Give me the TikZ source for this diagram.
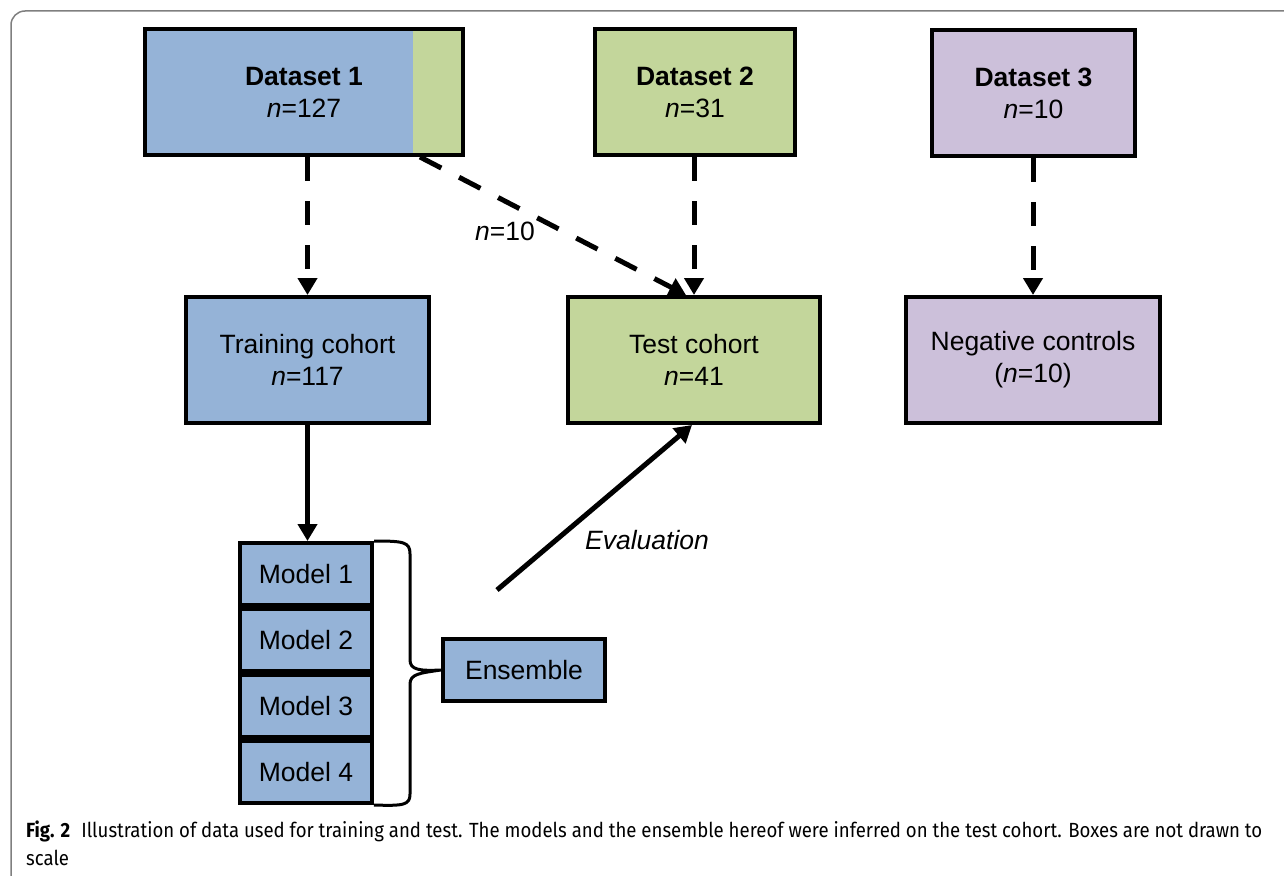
\documentclass[tikz,border=0pt]{standalone}
\usepackage{fontspec}
\usepackage{graphicx}
\setmainfont{Liberation Sans}
\newfontfamily\capfont{Fira Sans}
\usetikzlibrary{arrows.meta,calc}
\definecolor{cblue}{HTML}{95B3D7}
\definecolor{cgreen}{HTML}{C3D69B}
\definecolor{cpurple}{HTML}{CCC0DA}
\definecolor{framegray}{HTML}{7F7F7F}
\begin{document}
\begin{tikzpicture}[x=1pt,y=-1pt,
  box/.style={draw=black,line width=4pt,minimum height=126pt,align=center,inner sep=0pt,
    font=\fontsize{26.5}{32}\selectfont},
  mbox/.style={box,fill=cblue,minimum width=132pt,minimum height=62pt},
  lbl/.style={font=\fontsize{26.5}{32}\selectfont,inner sep=0pt},
  arr/.style={line width=5pt,-{Triangle[length=17pt,width=19pt]}},
  dasharr/.style={arr,dash pattern=on 24pt off 20pt},
  bracestyle/.style={line width=3pt,line join=round},
  frame/.style={draw=framegray,line width=1.5pt,rounded corners=14pt}]
\useasboundingbox (0,0) rectangle (1284,875);
\draw[frame] (11,890) -- (11,11) -- (1300,11);

% top row
\node[box,fill=cblue,minimum width=318pt,
  path picture={\fill[cgreen] ($(path picture bounding box.north east)+(-50pt,0pt)$) rectangle (path picture bounding box.south east);}]
  (d1) at (304,92) {\textbf{Dataset 1}\\\textit{n}=127};
\node[box,fill=cgreen,minimum width=200pt] (d2) at (695,92) {\textbf{Dataset 2}\\\textit{n}=31};
\node[box,fill=cpurple,minimum width=203pt] (d3) at (1033.5,93) {\textbf{Dataset 3}\\\textit{n}=10};

% second row
\node[box,fill=cblue,minimum width=243pt] (tr) at (307.5,360) {Training cohort\\\textit{n}=117};
\node[box,fill=cgreen,minimum width=252pt] (te) at (694,360) {Test cohort\\\textit{n}=41};
\node[box,fill=cpurple,minimum width=254pt] (ng) at (1033,360) {Negative controls\\(\textit{n}=10)};

% models
\node[mbox] (m1) at (306,574) {Model 1};
\node[mbox] (m2) at (306,640) {Model 2};
\node[mbox] (m3) at (306,706) {Model 3};
\node[mbox] (m4) at (306,772) {Model 4};
\node[box,fill=cblue,minimum width=162pt,minimum height=62pt] (en) at (524,670) {Ensemble};

% brace
\draw[bracestyle] (m1.north east) .. controls (404,541) and (410,542) .. (410,554)
  -- (410,660) .. controls (410,670) and (420,671) .. (en.west)
  .. controls (420,673) and (410,674) .. (410,684)
  -- (410,794) .. controls (410,805) and (404,806) .. (m4.south east);

% arrows
\draw[dasharr] (tr.north |- d1.south) -- (tr.north);
\draw[dasharr] (te.north |- d2.south) -- (te.north);
\draw[dasharr] (ng.north |- d3.south) -- (ng.north);
\draw[dasharr] ($(d1.south east)+(-45,0)$) -- ($(te.north)+(-8,0)$);
\node[lbl] (n10) at (505,231) {\textit{n}=10};
\draw[arr] (tr.south) -- (m1.north -| tr.south);
\coordinate (evs) at (497,590);
\draw[arr] (evs) -- ($(te.south)+(-2,0)$);
\node[lbl,font=\fontsize{26.5}{32}\selectfont\itshape] (ev) at (647,540) {Evaluation};

% caption
\node[anchor=base west,inner sep=0pt] (cap) at (26,837) {\resizebox{1236pt}{\height}{\capfont\fontsize{20.5}{28}\selectfont\begin{tabular}[t]{@{}l@{}}\textbf{Fig. 2}\hspace{0.6em}Illustration of data used for training and test. The models and the ensemble hereof were inferred on the test cohort. Boxes are not drawn to\\scale\end{tabular}}};
\end{tikzpicture}
\end{document}
